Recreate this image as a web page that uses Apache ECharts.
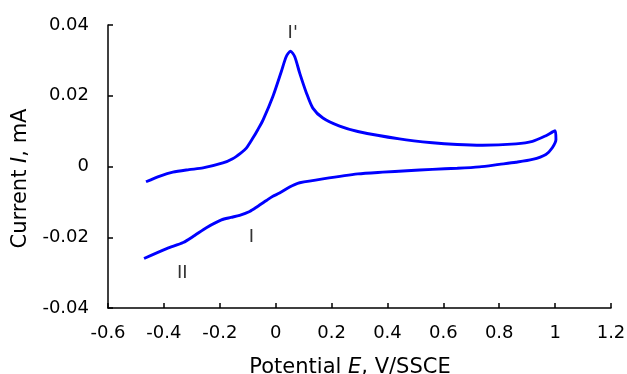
<!DOCTYPE html>
<html>
<head>
<meta charset="utf-8">
<script src="https://cdn.jsdelivr.net/npm/echarts@6/dist/echarts.min.js"></script>
<style>html,body{margin:0;padding:0;background:#fff}#c{width:627px;height:374px}</style>
</head>
<body>
<div id="c"></div>
<script>
// Forward (anodic) scan
var potentialForward = [-0.464,-0.414,-0.368,-0.31,-0.26,-0.189,-0.154,-0.125,-0.105,-0.081,-0.064,-0.045,-0.01,0.02,0.038,0.053,0.068,0.086,0.11,0.133,0.169,0.229,0.294,0.443,0.561,0.65,0.74,0.86,0.919,0.967,1.0];
var currentForward   = [-0.0043,-0.0027,-0.0016,-0.0009,-0.0004,0.001,0.0022,0.0038,0.0052,0.0081,0.0104,0.0132,0.0198,0.0268,0.0311,0.0326,0.0311,0.0264,0.0208,0.0165,0.0137,0.0114,0.0099,0.0078,0.0067,0.0062,0.006,0.0064,0.0071,0.0087,0.0101];
// Reverse (cathodic) scan
var potentialReverse = [1.0,1.003,0.99,0.967,0.919,0.86,0.8,0.729,0.65,0.561,0.47,0.383,0.294,0.169,0.086,0.068,0.05,0.014,-0.01,-0.033,-0.065,-0.093,-0.129,-0.16,-0.194,-0.248,-0.29,-0.331,-0.39,-0.471];
var currentReverse   = [0.0101,0.0076,0.0053,0.0034,0.002,0.0012,0.0006,-0.0001,-0.0005,-0.0008,-0.0012,-0.0016,-0.0021,-0.0035,-0.0046,-0.0051,-0.0058,-0.0075,-0.0084,-0.0096,-0.0113,-0.0127,-0.0138,-0.0144,-0.0151,-0.0173,-0.0195,-0.0215,-0.0232,-0.026];
// Peak annotations
var annotationText = ["I'", "I", "II"];
var annotationE    = [0.061, -0.087, -0.334];
var annotationI    = [0.0376, -0.020, -0.0301];

var curve = [];
potentialForward.forEach(function(e,i){ curve.push([e, currentForward[i]]); });
potentialReverse.forEach(function(e,i){ curve.push([e, currentReverse[i]]); });
var notes = annotationText.map(function(t,i){ return {value:[annotationE[i], annotationI[i]], name:t}; });

var FONT = 'DejaVu Sans';
var chart = echarts.init(document.getElementById('c'), null, {renderer:'canvas'});
chart.setOption({
  backgroundColor:'#fff',
  animation:false,
  grid:{left:108, right:16, top:25, bottom:66, containLabel:false, outerBoundsMode:'none'},
  xAxis:{
    type:'value', min:-0.6, max:1.2, interval:0.2,
    axisLine:{show:true, onZero:false, lineStyle:{color:'#000', width:1.5}},
    axisTick:{show:true, inside:true, length:5, lineStyle:{color:'#000', width:1.5}},
    splitLine:{show:false},
    axisLabel:{color:'#000', fontFamily:FONT, fontSize:18, margin:16,
      formatter:function(v){ return String(Math.round(v*10)/10); }},
    name:'{n|Potential }{i|E}{n|, V/SSCE}',
    nameLocation:'middle', nameGap:49,
    nameTextStyle:{padding:[0,19,0,0], rich:{
      n:{fontFamily:FONT, fontSize:21, color:'#000'},
      i:{fontFamily:FONT, fontSize:21, color:'#000', fontStyle:'italic'}}}
  },
  yAxis:{
    type:'value', min:-0.04, max:0.04, interval:0.02,
    axisLine:{show:true, onZero:false, lineStyle:{color:'#000', width:1.5}},
    axisTick:{show:true, inside:true, length:5, lineStyle:{color:'#000', width:1.5}},
    splitLine:{show:false},
    axisLabel:{color:'#000', fontFamily:FONT, fontSize:18, margin:19,
      formatter:function(v){ var r=Math.round(v*100)/100; return r===0?'0':r.toFixed(2); }},
    name:'{n|Current }{i|I}{n|, mA}',
    nameLocation:'middle', nameGap:76, nameRotate:90,
    nameTextStyle:{padding:[0,24,0,0], rich:{
      n:{fontFamily:FONT, fontSize:21, color:'#000'},
      i:{fontFamily:FONT, fontSize:21, color:'#000', fontStyle:'italic'}}}
  },
  series:[{
    type:'line', data:curve, showSymbol:false, smooth:0.25,
    lineStyle:{color:'#0000ff', width:2.9}, itemStyle:{color:'#0000ff'}
  },{
    type:'scatter', data:notes, symbolSize:0, silent:true,
    label:{show:true, position:'inside', formatter:'{b}', color:'#000', fontFamily:FONT, fontSize:18}
  }]
});
</script>
</body>
</html>
